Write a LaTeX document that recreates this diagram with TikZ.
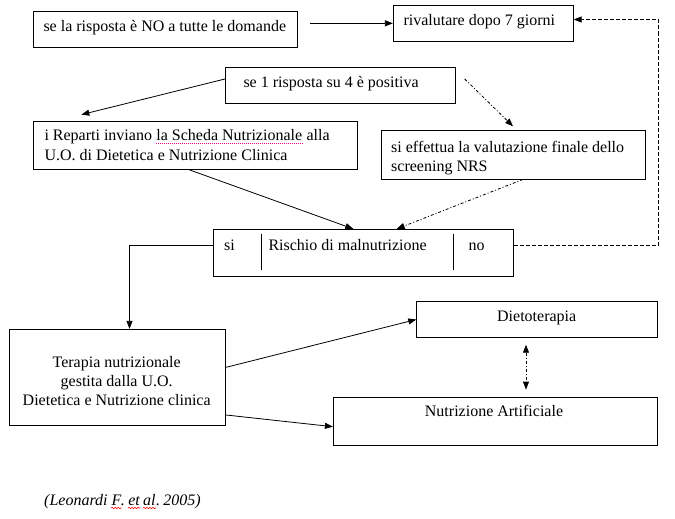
\documentclass[tikz,border=0pt]{standalone}
\usepackage{fontspec}
\setmainfont{Liberation Serif}
\usetikzlibrary{arrows.meta,calc,decorations.pathmorphing}
\begin{document}
\begin{tikzpicture}[x=1pt,y=-1pt,
  box/.style={draw, line width=0.8pt, inner sep=0pt},
  txt/.style={inner sep=0pt, anchor=base west, font=\fontsize{16}{19}\selectfont},
  ctxt/.style={inner sep=0pt, anchor=base, font=\fontsize{16}{19}\selectfont},
  cit/.style={inner sep=0pt, anchor=base west, font=\fontsize{16}{19}\selectfont\itshape},
  arr/.style={line width=0.8pt, -{Triangle[length=8pt,width=6pt]}},
  dd/.style={arr, dash pattern=on 3pt off 2pt on 1pt off 2pt},
  dd2/.style={line width=0.8pt, {Triangle[length=8pt,width=6pt]}-{Triangle[length=8pt,width=6pt]}, dash pattern=on 3pt off 2pt on 1pt off 2pt},
  dsh/.style={arr, dash pattern=on 4pt off 2pt},
  wavy/.style={red, line width=0.6pt, decorate, decoration={snake, amplitude=0.8pt, segment length=3pt}},
  dotu/.style={magenta, line width=0.6pt, dash pattern=on 0.6pt off 1.4pt}]
\useasboundingbox (0,0) rectangle (675,519);

% boxes
\node[box, minimum width=264.4pt, minimum height=35.6pt] (A) at (165.5,29.5) {};
\node[box, minimum width=180pt, minimum height=36pt] (B) at (483.3,23) {};
\node[box, minimum width=230.4pt, minimum height=35.6pt] (C) at (340.5,85.5) {};
\node[box, minimum width=323.7pt, minimum height=48.3pt] (D) at (195.2,145.2) {};
\node[box, minimum width=264pt, minimum height=49pt] (E) at (513,154.5) {};
\node[box, minimum width=300pt, minimum height=47.4pt] (F) at (363.3,253) {};
\node[box, minimum width=216.4pt, minimum height=96pt] (G) at (117.5,377.3) {};
\node[box, minimum width=240.6pt, minimum height=35.6pt] (H) at (537,319.5) {};
\node[box, minimum width=324pt, minimum height=48.4pt] (I) at (495.3,421.5) {};

% dividers in F
\draw[line width=0.8pt] ($(F.north west)+(48.4,4.7)$) coordinate (f1) -- ($(F.south west)+(48.4,-7.4)$);
\draw[line width=0.8pt] ($(F.north west)+(240,4.7)$) coordinate (f2) -- ($(F.south west)+(240,-7.4)$);

% texts
\node[txt] (tA) at (43.3,31.7) {se la risposta è NO a tutte le domande};
\node[txt] (tB) at (403.3,26) {rivalutare dopo 7 giorni};
\node[txt] (tC) at (243.3,87.3) {se 1 risposta su 4 è positiva};
\node[txt] (tD1) at (44.3,140) {i Reparti inviano};
\node[txt] (tD2) at ($(tD1.base east)+(4,0)$) {la Scheda Nutrizionale};
\node[txt] (tD3) at ($(tD2.base east)+(4,0)$) {alla};
\node[txt] (tD4) at (44.3,160) {U.O. di Dietetica e Nutrizione Clinica};
\draw[dotu] ($(tD2.base west)+(0,2.8)$) -- ($(tD2.base east)+(0,2.8)$);
\node[txt] (tE1) at (391,152) {si effettua la valutazione finale dello};
\node[txt] (tE2) at (391,171) {screening NRS};
\node[txt] (tF1) at (224,250.7) {si};
\node[txt] (tF2) at (268.3,250.7) {Rischio di malnutrizione};
\node[txt] (tF3) at (468.3,250.7) {no};
\node[ctxt] (tG1) at (116.7,367.3) {Terapia nutrizionale};
\node[ctxt] (tG2) at (116.7,386.7) {gestita dalla U.O.};
\node[ctxt] (tG3) at (116.7,405) {Dietetica e Nutrizione clinica};
\node[ctxt] (tH) at (536.7,321.7) {Dietoterapia};
\node[ctxt] (tI) at (494,416.7) {Nutrizione Artificiale};

% citation
\node[cit] (c1) at (44,505) {(Leonardi};
\node[cit] (c2) at ($(c1.base east)+(3.5,0)$) {F};
\node[cit] (c2b) at ($(c2.base east)+(-0.8,0)$) {.};
\node[cit] (c3) at ($(c2b.base east)+(3,0)$) {et};
\node[cit] (c3b) at ($(c3.base east)+(3,0)$) {al};
\node[cit] (c3c) at (c3b.base east) {.};
\node[cit] (c4) at ($(c3c.base east)+(3,0)$) {2005)};
\draw[wavy] ($(c2.base west)+(0,3)$) -- ($(c2.base east)+(0,3)$);
\draw[wavy] ($(c3.base west)+(0,3)$) -- ($(c3.base east)+(0,3)$);
\draw[wavy] ($(c3b.base west)+(0,3)$) -- ($(c3b.base east)+(0,3)$);

% connectors
\draw[arr] ($(A.east|-B.west)+(12,0.3)$) -- ($(B.west)+(0,0.3)$);
\draw[arr] ($(C.west)+(0,-6.5)$) -- ($(D.north west)+(48.4,-6)$);
\draw[dd] ($(C.east)+(8.6,-6.5)$) -- ($(E.north)+(0,-3.3)$);
\draw[arr] ($(D.south)+(-6,0)$) -- ($(F.north)+(-10,0)$);
\draw[dd] ($(E.south)+(10,0)$) -- ($(F.north)+(33.4,0)$);
\draw[arr] ($(F.west)+(0,-8)$) -| ($(G.north)+(12,0)$);
\draw[dsh] ($(F.east)+(0,-8)$) -- ++(144.5,0) |- ($(B.east)+(0,-3.5)$);
\draw[arr] ($(G.east)+(0,-10)$) -- (H.west);
\draw[arr] ($(G.east)+(0,37.7)$) -- ($(I.west)+(0,5.2)$);
\draw[dd2] ($(H.south)+(-11,7)$) -- ($(I.north)+(30.7,-7.3)$);
\end{tikzpicture}
\end{document}
